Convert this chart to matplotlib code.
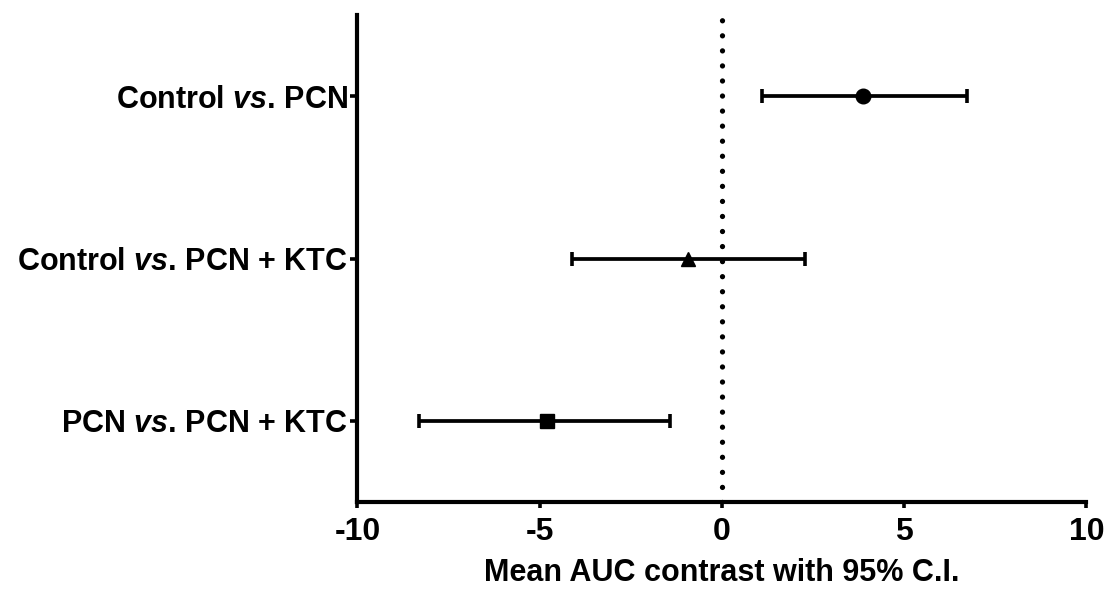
import numpy as np
import matplotlib.pyplot as plt

plt.rcParams['font.family'] = 'Liberation Sans'
plt.rcParams['font.weight'] = 'bold'
plt.rcParams['mathtext.fontset'] = 'custom'
plt.rcParams['mathtext.rm'] = 'Liberation Sans:bold'
plt.rcParams['mathtext.it'] = 'Liberation Sans:italic'
plt.rcParams['mathtext.bf'] = 'Liberation Sans:bold'

comparisons = ["Control $\\mathit{vs}$. PCN",
               "Control $\\mathit{vs}$. PCN + KTC",
               "PCN $\\mathit{vs}$. PCN + KTC"]
mean_diff = [3.87, -0.92, -4.81]
ci_low = [1.09, -4.12, -8.31]
ci_high = [6.71, 2.28, -1.43]
markers = ['o', '^', 's']
xticks = [-10, -5, 0, 5, 10]


def main():
    fig = plt.figure(figsize=(11.04, 5.91), dpi=100)
    ax = fig.add_axes([0.3238, 0.1506, 0.6603, 0.8240])

    ypos = np.arange(len(comparisons), 0, -1)
    lw_dot = 3.8
    ax.axvline(0, color='black', lw=lw_dot, linestyle=(0, (0.01, 10.8 / lw_dot)),
               dash_capstyle='round', zorder=1)

    for y, m, lo, hi, mk in zip(ypos, mean_diff, ci_low, ci_high, markers):
        ax.errorbar([m], [y], xerr=[[m - lo], [hi - m]], fmt=mk, color='black',
                    ms=10.5, elinewidth=2.7, capsize=5, capthick=2.6, zorder=3)

    ax.set_xlim(-10, 10)
    ax.set_ylim(0.5, 3.5)
    ax.set_xticks(xticks)
    ax.set_xticklabels([str(t) for t in xticks])
    ax.set_yticks(ypos)
    ax.set_yticklabels(comparisons)

    for side in ['top', 'right']:
        ax.spines[side].set_visible(False)
    for side in ['left', 'bottom']:
        ax.spines[side].set_linewidth(3.0)

    ax.tick_params(axis='y', direction='out', length=5, width=2.6, pad=2, labelsize=22)
    ax.tick_params(axis='x', direction='out', length=4, width=2.6, pad=7, labelsize=23)
    ax.set_xlabel('Mean AUC contrast with 95% C.I.', fontsize=22, fontweight='bold', labelpad=8)

    fig.savefig('out.png', dpi=100)


if __name__ == "__main__":
    main()
